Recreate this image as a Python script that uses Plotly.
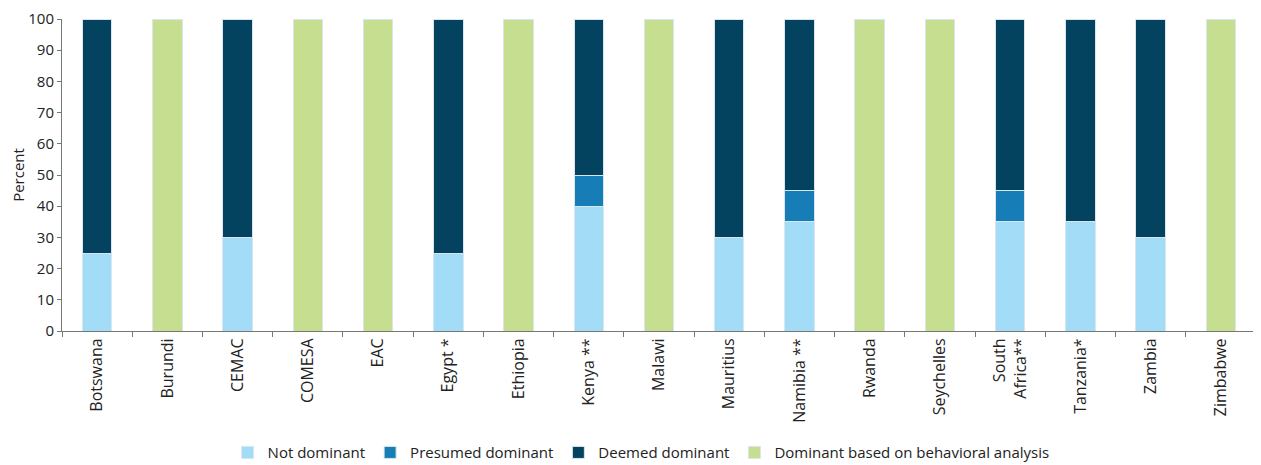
import plotly.graph_objects as go

categories = ["Botswana", "Burundi", "CEMAC", "COMESA", "EAC", "Egypt *", "Ethiopia",
              "Kenya **", "Malawi", "Mauritius", "Namibia **", "Rwanda", "Seychelles",
              "South<br>Africa**", "Tanzania*", "Zambia", "Zimbabwe"]

not_dominant = [25, 0, 30, 0, 0, 25, 0, 40, 0, 30, 35, 0, 0, 35, 35, 30, 0]
presumed_dominant = [0, 0, 0, 0, 0, 0, 0, 10, 0, 0, 10, 0, 0, 10, 0, 0, 0]
deemed_dominant = [75, 0, 70, 0, 0, 75, 0, 50, 0, 70, 55, 0, 0, 55, 65, 70, 0]
behavioral = [0, 100, 0, 100, 100, 0, 100, 0, 100, 0, 0, 100, 100, 0, 0, 0, 100]

series = [
    ("Not dominant", not_dominant, "#a3dcf6"),
    ("Presumed dominant", presumed_dominant, "#167db6"),
    ("Deemed dominant", deemed_dominant, "#03435f"),
    ("Dominant based on behavioral analysis", behavioral, "#c5de8f"),
]

fig = go.Figure()

for name, values, color in series:
    fig.add_trace(
        go.Bar(
            x=categories,
            y=values,
            name=name,
            marker=dict(color=color, line=dict(color="#d9e6ee", width=1)),
        )
    )

# the page body has an 8px margin, so the figure is sized and placed to allow for it
fig.update_layout(
    barmode="stack",
    bargap=0.58,
    width=1253,
    height=457,
    margin=dict(l=54, r=5, t=11, b=134, autoexpand=False),
    plot_bgcolor="white",
    paper_bgcolor="white",
    font=dict(family="Open Sans, Noto Sans, sans-serif", size=16, color="#222222"),
    showlegend=True,
    legend=dict(
        orientation="h",
        x=0.485,
        xanchor="center",
        y=-0.39,
        yanchor="middle",
        font=dict(size=15),
        traceorder="normal",
        itemwidth=30,
    ),
)

fig.update_xaxes(
    automargin=False,
    tickangle=-90,
    showline=True,
    linecolor="#777777",
    linewidth=1,
    ticks="outside",
    tickson="boundaries",
    ticklen=5,
    tickcolor="#777777",
    tickfont=dict(size=16),
)

fig.update_yaxes(
    automargin=False,
    range=[0, 100],
    dtick=10,
    ticklabeloverflow="allow",
    showline=True,
    linecolor="#777777",
    linewidth=1,
    ticks="outside",
    ticklen=4,
    tickcolor="#777777",
    showgrid=False,
    zeroline=False,
    title=dict(text="Percent", font=dict(size=15), standoff=10),
    tickfont=dict(size=15),
)

fig.write_html("out.html")
